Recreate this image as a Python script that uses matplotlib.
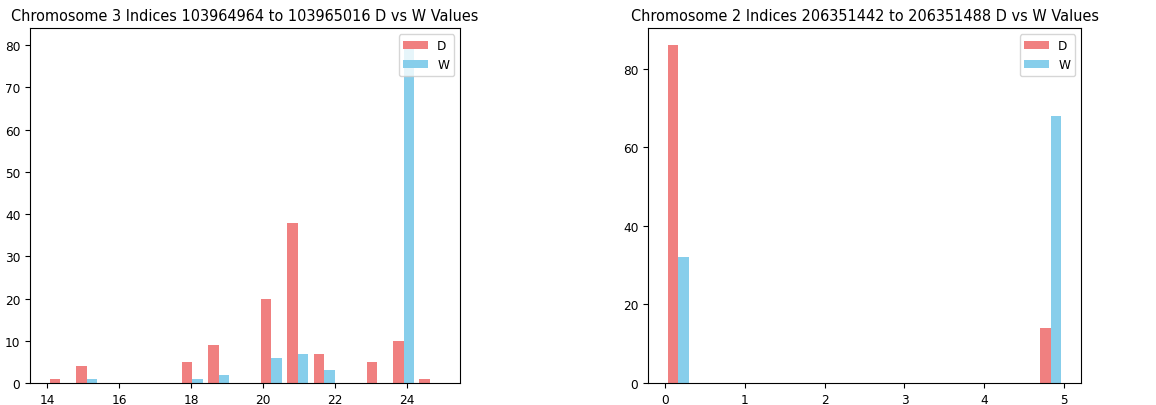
import numpy as np
import matplotlib
matplotlib.use('Agg')
import matplotlib.pyplot as plt

# chromosome 3 window: value -> count for D and W
c3_vals = [14, 15, 16, 17, 18, 19, 20, 21, 22, 23, 24, 25]
c3_D = [1, 4, 0, 0, 5, 9, 20, 38, 7, 5, 10, 1]
c3_W = [0, 1, 0, 0, 1, 2, 6, 7, 3, 0, 80, 0]

# chromosome 2 window
c2_vals = [0, 5]
c2_D = [86, 14]
c2_W = [32, 68]

title3 = 'Chromosome 3 Indices 103964964 to 103965016 D vs W Values'
title2 = 'Chromosome 2 Indices 206351442 to 206351488 D vs W Values'

plt.rcParams['font.size'] = 8.7

d3 = np.repeat(c3_vals, c3_D)
w3 = np.repeat(c3_vals, c3_W)
d2 = np.repeat(c2_vals, c2_D)
w2 = np.repeat(c2_vals, c2_W)

fig = plt.figure(figsize=(11.56, 4.06), dpi=100)
ax1 = fig.add_axes([0.026, 0.054, 0.372, 0.874])
ax2 = fig.add_axes([0.5606, 0.054, 0.3746, 0.874])

ax1.hist([d3, w3], bins=15, color=['lightcoral', 'skyblue'], label=['D', 'W'])
ax1.set_title(title3)
ax1.legend(loc='upper right')

ax2.hist([d2, w2], bins=15, color=['lightcoral', 'skyblue'], label=['D', 'W'])
ax2.set_title(title2)
ax2.legend(loc='upper right')

fig.savefig('out.png', dpi=100)
